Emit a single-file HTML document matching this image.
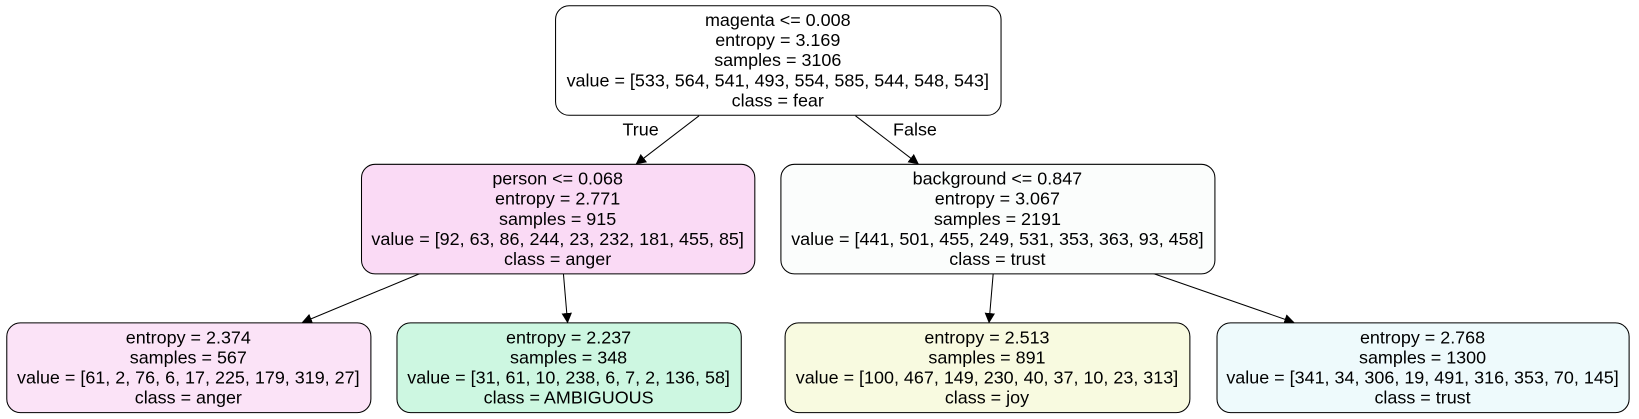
<!DOCTYPE html>
<html><head><meta charset="utf-8"><style>
html,body{margin:0;padding:0;background:#fff;}
svg{display:block;font-family:"Liberation Sans",Arial,sans-serif;}
</style></head><body>
<svg id="tree" width="1639" height="419" viewBox="0 0 1639 419" xmlns="http://www.w3.org/2000/svg">
<defs><marker id="ah" markerWidth="10" markerHeight="10" refX="9" refY="5" orient="auto" markerUnits="userSpaceOnUse"><path d="M0,0 L10,5 L0,10 z" fill="#000"/></marker></defs>
<g id="root" transform="scale(1.0433)"></g>
</svg>
<script>
const nodeNames = ["root-node","person-node","background-node","leaf-anger","leaf-ambiguous","leaf-joy","leaf-trust"];
const nodeLines = [
 ["magenta <= 0.008","entropy = 3.169","samples = 3106","value = [533, 564, 541, 493, 554, 585, 544, 548, 543]","class = fear"],
 ["person <= 0.068","entropy = 2.771","samples = 915","value = [92, 63, 86, 244, 23, 232, 181, 455, 85]","class = anger"],
 ["background <= 0.847","entropy = 3.067","samples = 2191","value = [441, 501, 455, 249, 531, 353, 363, 93, 458]","class = trust"],
 ["entropy = 2.374","samples = 567","value = [61, 2, 76, 6, 17, 225, 179, 319, 27]","class = anger"],
 ["entropy = 2.237","samples = 348","value = [31, 61, 10, 238, 6, 7, 2, 136, 58]","class = AMBIGUOUS"],
 ["entropy = 2.513","samples = 891","value = [100, 467, 149, 230, 40, 37, 10, 23, 313]","class = joy"],
 ["entropy = 2.768","samples = 1300","value = [341, 34, 306, 19, 491, 316, 353, 70, 145]","class = trust"]
];
const nodeFills = ["#ffffff","#fadaf5","#fbfdfc","#fbe3f7","#cdf7e1","#f8fae0","#eefafc"];
const boxes = [[532,5,427,105],[346,157,377,105],[748,157,416,105],[6,309,349,86],[380,309,330,86],[752,309,388,86],[1166,309,395,86]];
const edges = [[670,111,610,157],[820,111,880,157],[403,262,290,309],[540,262,544,309],[952,262,948,309],[1105,262,1240,309]];
const NS="http://www.w3.org/2000/svg";
const svg=document.getElementById('root');
const FS='17.2';
edges.forEach((e,i)=>{
 const l=document.createElementNS(NS,'line');
 l.setAttribute('x1',e[0]);l.setAttribute('y1',e[1]);l.setAttribute('x2',e[2]);l.setAttribute('y2',e[3]);
 l.setAttribute('stroke','#000');l.setAttribute('stroke-width','1');l.setAttribute('marker-end','url(#ah)');
 
 
 svg.appendChild(l);
});
nodeLines.forEach((lines,i)=>{
 const b=boxes[i];
 const g=document.createElementNS(NS,'g');
 
 
 const r=document.createElementNS(NS,'rect');
 r.setAttribute('x',b[0]+0.5);r.setAttribute('y',b[1]+0.5);r.setAttribute('width',b[2]);r.setAttribute('height',b[3]);
 r.setAttribute('rx',13);r.setAttribute('fill',nodeFills[i]);r.setAttribute('stroke','#000');r.setAttribute('stroke-width','1');
 g.appendChild(r);
 const cx=b[0]+b[2]/2;
 const step=19.3;
 const y0=b[1]+b[3]/2-(lines.length-1)*step/2+6;
 lines.forEach((t,j)=>{
  const tx=document.createElementNS(NS,'text');
  tx.setAttribute('x',cx);tx.setAttribute('y',y0+j*step);tx.setAttribute('text-anchor','middle');
  tx.setAttribute('font-size',FS);tx.setAttribute('fill','#000');
  tx.textContent=t;
  
  
  g.appendChild(tx);
 });
 svg.appendChild(g);
});
[["True",614,130],["False",877,130]].forEach(a=>{
 const tx=document.createElementNS(NS,'text');
 tx.setAttribute('x',a[1]);tx.setAttribute('y',a[2]);tx.setAttribute('text-anchor','middle');tx.setAttribute('font-size',FS);
 tx.textContent=a[0];
 
 
 svg.appendChild(tx);
});
</script>
</body></html>
